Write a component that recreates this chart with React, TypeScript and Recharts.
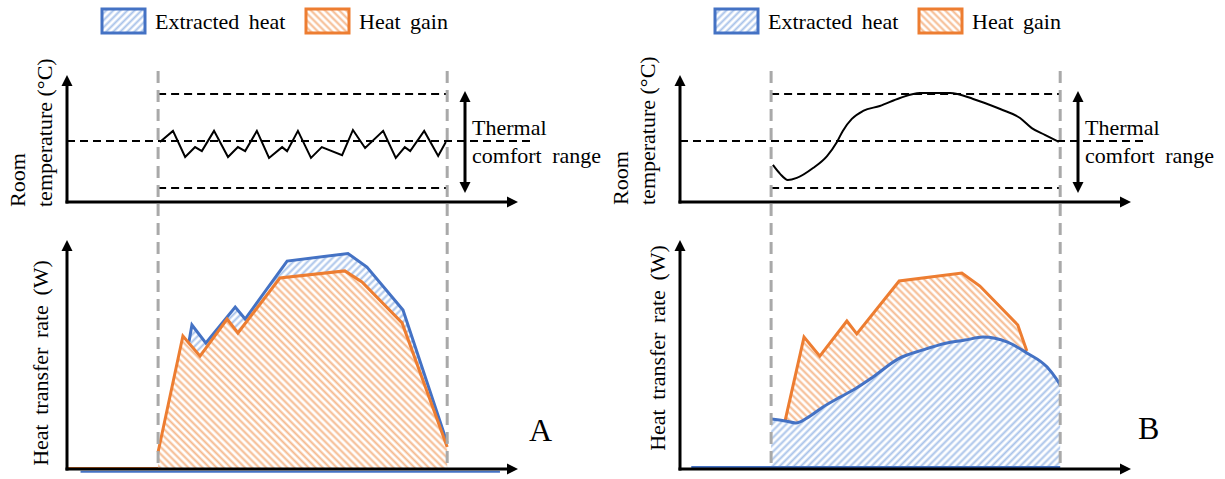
import React from 'react';
import { ComposedChart, Area, Line, XAxis, YAxis, ReferenceLine, Legend } from 'recharts';

type Pt = [number, number];

// ---- data (time in normalised units 0..105, temperature in °C, heat in relative W) ----
const occupancy: [number, number] = [20.2, 84.3];
const comfortRange: [number, number] = [22, 26];
const setpoint = 24;

const legendLabels = ['Extracted heat', 'Heat gain'];
const panelLabels = ['A', 'B'];
const tempAxisTitle = ['Room', 'temperature (°C)'];
const heatAxisTitle = 'Heat transfer rate (W)';
const comfortText = ['Thermal', 'comfort range'];

const roomTempA: Pt[] = [
  [20.6, 23.96], [23.5, 24.43], [26.2, 23.32], [28.4, 23.74], [29.9, 23.57], [32.6, 24.43],
  [35.7, 23.32], [37.9, 23.74], [39.5, 23.57], [42.1, 24.43], [44.8, 23.28], [47.7, 23.74],
  [48.8, 23.57], [51.2, 24.43], [54.1, 23.28], [56.5, 23.74], [61.0, 23.4], [63.4, 24.47],
  [66.1, 23.7], [70.1, 24.43], [72.9, 23.28], [74.9, 23.74], [76.1, 23.57], [79.2, 24.43],
  [82.3, 23.36], [84.0, 23.96],
];
const heatGainA: Pt[] = [
  [20.2, 7.4], [25.7, 58.1], [29.5, 49.3], [35.5, 65.5], [37.9, 59.4], [47.2, 83.4],
  [61.6, 86.5], [65.4, 81.7], [74.3, 63.8], [84.3, 9.6],
];
const extractedA: Pt[] = [
  [27.05, 55.6], [27.7, 62.9], [30.8, 55.0], [37.3, 70.7], [39.5, 65.5], [48.8, 90.8],
  [62.3, 94.1], [66.5, 88.2], [74.5, 69.4], [84.3, 11.4],
];

const roomTempB: Pt[] = [
  [20.6, 22.98], [22.2, 22.6], [23.9, 22.34], [25.9, 22.43], [29.5, 22.85], [32.6, 23.36],
  [34.8, 23.96], [36.1, 24.43], [38.1, 24.94], [40.6, 25.28], [44.3, 25.49], [48.8, 25.83],
  [53.2, 26.04], [59.9, 26.04], [65.0, 25.79], [71.0, 25.36], [75.4, 24.98], [78.0, 24.55],
  [80.9, 24.26], [84.0, 23.96],
];
const heatGainB: Pt[] = [
  [23.3, 21.0], [27.5, 57.6], [31.0, 49.3], [37.0, 64.6], [39.2, 59.0], [48.6, 82.1],
  [62.5, 85.6], [66.5, 79.9], [74.9, 62.9], [76.9, 51.5],
];
const extractedB: Pt[] = [
  [20.2, 21.8], [23.3, 21.0], [25.7, 20.1], [28.2, 22.3], [31.7, 27.1], [35.5, 31.4],
  [38.4, 34.5], [42.8, 40.2], [48.3, 48.0], [53.9, 52.0], [59.2, 55.0], [63.2, 56.3],
  [67.2, 57.6], [72.5, 55.5], [76.9, 50.7], [81.4, 44.5], [83.6, 38.9], [84.3, 36.7],
];

// ---- styles / layout ----
const BLUE = '#4472C4';
const ORANGE = '#ED7D31';
const GREY = '#a9a9a9';
const FONT = 'Liberation Serif, Tinos, Times New Roman, DejaVu Serif, serif';

const CHART_W = 612;
const CHART_H = 479;
const PLOT_L = 67;
const PLOT_T = 67;
const PLOT_B = 469;
const PX_PER_T = 4.51;
const X_MAX = 105;
const SET_PX = 141;
const PX_PER_DEG = 23.5;
const HEAT0_PX = 469;
const PX_PER_HEAT = 2.29;

const tAt = (px: number) => (px - PLOT_L) / PX_PER_T;
const tempAt = (py: number) => setpoint + (SET_PX - py) / PX_PER_DEG;
const heatAt = (py: number) => (HEAT0_PX - py) / PX_PER_HEAT;
const tempDomain: [number, number] = [tempAt(PLOT_B), tempAt(PLOT_T)];
const heatDomain: [number, number] = [0, heatAt(PLOT_T)];

function buildRows(series: Record<string, Pt[]>) {
  const map = new Map<number, any>();
  for (const [key, pts] of Object.entries(series)) {
    for (const [t, v] of pts) {
      const row = map.get(t) ?? { t };
      row[key] = v;
      map.set(t, row);
    }
  }
  return [...map.values()].sort((a, b) => a.t - b.t);
}

function arrowShape(ends: 'start' | 'end' | 'both', head = 11, half = 5.5) {
  return (p: any) => {
    const { x1, y1, x2, y2, stroke, strokeWidth } = p;
    const dx = x2 - x1;
    const dy = y2 - y1;
    const len = Math.hypot(dx, dy) || 1;
    const ux = dx / len;
    const uy = dy / len;
    const hasStart = ends !== 'end';
    const hasEnd = ends !== 'start';
    const sx = hasStart ? x1 + ux * head * 0.8 : x1;
    const sy = hasStart ? y1 + uy * head * 0.8 : y1;
    const ex = hasEnd ? x2 - ux * head * 0.8 : x2;
    const ey = hasEnd ? y2 - uy * head * 0.8 : y2;
    const tri = (tx: number, ty: number, dxn: number, dyn: number) => {
      const bx = tx - dxn * head;
      const by = ty - dyn * head;
      return `${tx},${ty} ${bx - dyn * half},${by + dxn * half} ${bx + dyn * half},${by - dxn * half}`;
    };
    return (
      <g>
        <line x1={sx} y1={sy} x2={ex} y2={ey} stroke={stroke} strokeWidth={strokeWidth} strokeLinecap="square" />
        {hasEnd && <polygon points={tri(x2, y2, ux, uy)} fill={stroke} />}
        {hasStart && <polygon points={tri(x1, y1, -ux, -uy)} fill={stroke} />}
      </g>
    );
  };
}

const textStyle = { fontFamily: FONT, fontSize: 22, fill: '#000' } as const;

const LegendContent = () => (
  <svg width={CHART_W} height={40} style={{ display: 'block', overflow: 'visible' }}>
    <rect x={102} y={9} width={43} height={24} fill="url(#hatchBlue)" stroke={BLUE} strokeWidth={3} />
    <text x={155} y={29} wordSpacing={4} style={textStyle}>{legendLabels[0]}</text>
    <rect x={306} y={9} width={43} height={24} fill="url(#hatchOrange)" stroke={ORANGE} strokeWidth={3} />
    <text x={359} y={29} wordSpacing={4} style={textStyle}>{legendLabels[1]}</text>
  </svg>
);

type PanelProps = {
  left: number;
  temp: Pt[];
  gain: Pt[];
  extracted: Pt[];
  gainFirst: boolean;
  smooth: boolean;
  baseLines: { t0: number; t1: number; v: number; color: string }[];
};

function Panel({ left, temp, gain, extracted, gainFirst, smooth, baseLines }: PanelProps) {
  const rows = buildRows({ temp, gain, extracted });
  const gainArea = (
    <Area
      key="gain"
      yAxisId="heat"
      dataKey="gain"
      type="linear"
      connectNulls
      stroke={ORANGE}
      strokeWidth={3}
      fill="url(#hatchOrange)"
      fillOpacity={1}
      dot={false}
      activeDot={false}
      isAnimationActive={false}
      legendType="none"
    />
  );
  const extractedArea = (
    <Area
      key="extracted"
      yAxisId="heat"
      dataKey="extracted"
      type={smooth ? 'monotone' : 'linear'}
      connectNulls
      stroke={BLUE}
      strokeWidth={3}
      fill="url(#hatchBlue)"
      fillOpacity={1}
      dot={false}
      activeDot={false}
      isAnimationActive={false}
      legendType="none"
    />
  );
  const tempAxisY = tempAt(202);
  return (
    <div style={{ position: 'absolute', left, top: 0, width: CHART_W, height: CHART_H }}>
      <ComposedChart
        width={CHART_W}
        height={CHART_H}
        data={rows}
        margin={{ left: PLOT_L, top: PLOT_T, bottom: CHART_H - PLOT_B, right: CHART_W - PLOT_L - X_MAX * PX_PER_T }}
      >
        <XAxis type="number" dataKey="t" domain={[0, X_MAX]} allowDataOverflow hide />
        <YAxis yAxisId="temp" type="number" domain={tempDomain} allowDataOverflow hide />
        <YAxis yAxisId="heat" type="number" domain={heatDomain} allowDataOverflow hide />
        <Legend
          layout="horizontal"
          verticalAlign="middle"
          align="center"
          wrapperStyle={{ top: 0, left: 0, width: CHART_W, height: 40 }}
          content={() => <LegendContent />}
        />
        {gainFirst ? [gainArea, extractedArea] : [extractedArea, gainArea]}
        {baseLines.map((b, i) => (
          <ReferenceLine
            key={'b' + i}
            yAxisId="heat"
            segment={[{ x: b.t0, y: b.v }, { x: b.t1, y: b.v }]}
            stroke={b.color}
            strokeWidth={2}
            ifOverflow="visible"
          />
        ))}
        <Line
          yAxisId="temp"
          dataKey="temp"
          type={smooth ? 'monotone' : 'linear'}
          connectNulls
          stroke="#000"
          strokeWidth={2}
          dot={false}
          activeDot={false}
          isAnimationActive={false}
          legendType="none"
        />
        {/* comfort range lines */}
        <ReferenceLine yAxisId="temp" segment={[{ x: occupancy[0], y: comfortRange[1] }, { x: occupancy[1], y: comfortRange[1] }]} stroke="#000" strokeWidth={2} strokeDasharray="8 5" ifOverflow="visible" />
        <ReferenceLine yAxisId="temp" segment={[{ x: occupancy[0], y: comfortRange[0] }, { x: occupancy[1], y: comfortRange[0] }]} stroke="#000" strokeWidth={2} strokeDasharray="8 5" ifOverflow="visible" />
        <ReferenceLine yAxisId="temp" segment={[{ x: 0, y: setpoint }, { x: tAt(533), y: setpoint }]} stroke="#000" strokeWidth={2} strokeDasharray="8 5" ifOverflow="visible" />
        {/* double arrow */}
        <ReferenceLine yAxisId="temp" segment={[{ x: tAt(465), y: tempAt(193) }, { x: tAt(465), y: tempAt(91) }]} stroke="#000" strokeWidth={3} ifOverflow="visible" shape={arrowShape('both', 11, 5.5)} />
        {/* occupancy period */}
        <ReferenceLine yAxisId="heat" x={occupancy[0]} stroke={GREY} strokeWidth={3} strokeDasharray="12 7" strokeDashoffset={-6} ifOverflow="visible" />
        <ReferenceLine yAxisId="heat" x={occupancy[1]} stroke={GREY} strokeWidth={3} strokeDasharray="12 7" strokeDashoffset={-6} ifOverflow="visible" />
        {/* axes */}
        <ReferenceLine yAxisId="temp" segment={[{ x: 0, y: tempAxisY }, { x: tAt(518), y: tempAxisY }]} stroke="#000" strokeWidth={3} ifOverflow="visible" shape={arrowShape('end')} />
        <ReferenceLine yAxisId="temp" segment={[{ x: 0, y: tempAxisY }, { x: 0, y: tempAt(75) }]} stroke="#000" strokeWidth={3} ifOverflow="visible" shape={arrowShape('end')} />
        <ReferenceLine yAxisId="heat" segment={[{ x: 0, y: 0 }, { x: tAt(518), y: 0 }]} stroke="#000" strokeWidth={3} ifOverflow="visible" shape={arrowShape('end')} />
        <ReferenceLine yAxisId="heat" segment={[{ x: 0, y: 0 }, { x: 0, y: heatAt(240) }]} stroke="#000" strokeWidth={3} ifOverflow="visible" shape={arrowShape('end')} />
      </ComposedChart>
    </div>
  );
}

export default function App() {
  return (
    <div style={{ position: 'absolute', left: 0, top: 0, width: 1225, height: 479, background: '#fff', overflow: 'hidden' }}>
      <svg width={0} height={0} style={{ position: 'absolute' }}>
        <defs>
          <pattern id="hatchBlue" patternUnits="userSpaceOnUse" width={5} height={5} patternTransform="rotate(45)">
            <rect width={5} height={5} fill="#fff" />
            <line x1={2.5} y1={0} x2={2.5} y2={5} stroke="#a9c3ea" strokeWidth={2} />
          </pattern>
          <pattern id="hatchOrange" patternUnits="userSpaceOnUse" width={5} height={5} patternTransform="rotate(-45)">
            <rect width={5} height={5} fill="#fff" />
            <line x1={2.5} y1={0} x2={2.5} y2={5} stroke="#f5b88c" strokeWidth={2} />
          </pattern>
        </defs>
      </svg>
      <Panel
        left={0}
        temp={roomTempA}
        gain={heatGainA}
        extracted={extractedA}
        gainFirst={false}
        smooth={false}
        baseLines={[
          { t0: 0, t1: occupancy[0], v: 0.4, color: ORANGE },
          { t0: 3, t1: 96, v: -1.2, color: BLUE },
        ]}
      />
      <Panel
        left={613}
        temp={roomTempB}
        gain={heatGainB}
        extracted={extractedB}
        gainFirst={true}
        smooth={true}
        baseLines={[{ t0: 2.5, t1: occupancy[1], v: 0.9, color: BLUE }]}
      />
      <svg width={1225} height={479} style={{ position: 'absolute', left: 0, top: 0, pointerEvents: 'none' }}>
        {/* panel A titles */}
        <text transform="translate(25,207) rotate(-90)" style={textStyle}>{tempAxisTitle[0]}</text>
        <text transform="translate(52,207) rotate(-90)" style={textStyle}>{tempAxisTitle[1]}</text>
        <text transform="translate(48,363) rotate(-90)" textAnchor="middle" wordSpacing={4} style={textStyle}>{heatAxisTitle}</text>
        <text x={472} y={135} style={textStyle}>{comfortText[0]}</text>
        <text x={472} y={163} wordSpacing={5} style={textStyle}>{comfortText[1]}</text>
        <text x={529} y={441} style={{ ...textStyle, fontSize: 32 }}>{panelLabels[0]}</text>
        {/* panel B titles */}
        <text transform="translate(628,205) rotate(-90)" style={textStyle}>{tempAxisTitle[0]}</text>
        <text transform="translate(655,205) rotate(-90)" style={textStyle}>{tempAxisTitle[1]}</text>
        <text transform="translate(665,348) rotate(-90)" textAnchor="middle" wordSpacing={4} style={textStyle}>{heatAxisTitle}</text>
        <text x={1085} y={135} style={textStyle}>{comfortText[0]}</text>
        <text x={1085} y={163} wordSpacing={5} style={textStyle}>{comfortText[1]}</text>
        <text x={1138} y={439} style={{ ...textStyle, fontSize: 32 }}>{panelLabels[1]}</text>
      </svg>
    </div>
  );
}
